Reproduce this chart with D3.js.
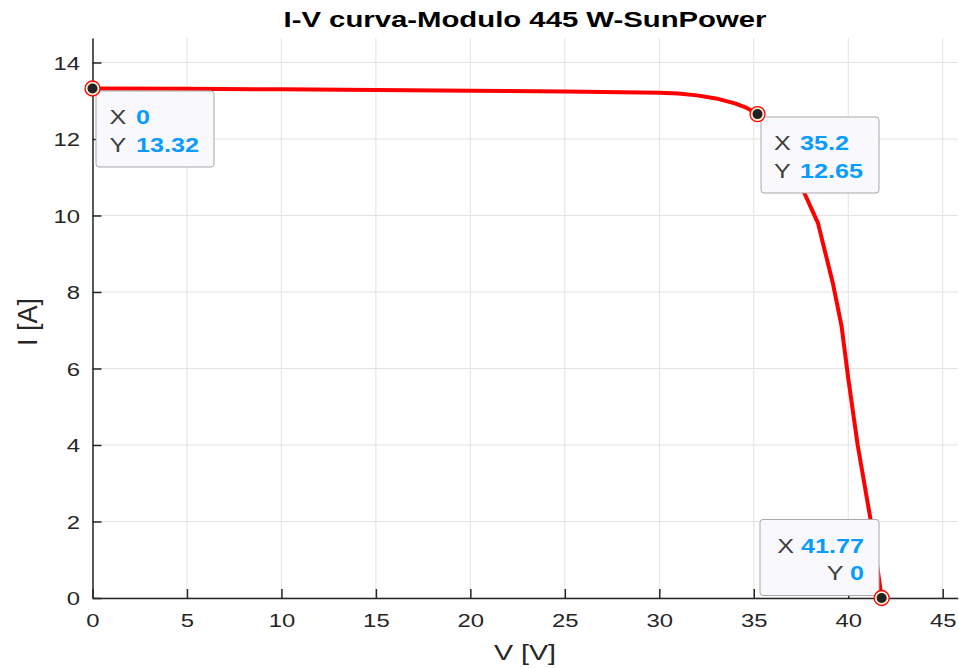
<!DOCTYPE html>
<html>
  <head>
    <meta charset="utf-8">
    <style>
      body {
        margin: 0;
        background: #fff;
      }
      text {
        font-family: "Liberation Sans", Arial, Helvetica, sans-serif;
      }
    </style>
  </head>
  <body>
    <script src="https://d3js.org/d3.v7.min.js"></script>
    <script>
      var width = 959, height = 668;

      // I-V curve
      var voltage = [0, 5, 10, 15, 20, 25, 30, 31, 32, 33, 34, 34.6, 35.2, 35.8, 36.5, 37.3, 38.4, 39.2, 39.65, 40.0, 40.5, 41.2, 41.77];
      var current = [13.32, 13.31, 13.3, 13.28, 13.26, 13.24, 13.21, 13.19, 13.14, 13.06, 12.93, 12.82, 12.65, 12.4, 11.9, 11.0, 9.8, 8.2, 7.1, 5.75, 4.0, 2.0, 0];

      var xTicks = [0, 5, 10, 15, 20, 25, 30, 35, 40, 45];
      var yTicks = [0, 2, 4, 6, 8, 10, 12, 14];

      // data tips: [x, y, label align]
      var tipX = [0, 35.2, 41.77];
      var tipY = [13.32, 12.65, 0];
      var tipText = [["0", "13.32"], ["35.2", "12.65"], ["41.77", "0"]];

      var SX = 1.29; // horizontal stretch of the exported figure text

      var x = d3.scaleLinear().domain([0, 45.8]).range([92.5, 957.8]);
      var y = d3.scaleLinear().domain([0, 14.64]).range([598, 38]);

      var svg = d3.select("body").append("svg")
          .attr("width", width)
          .attr("height", height);

      // grid
      var grid = svg.append("g").attr("stroke", "#e2e2e2").attr("stroke-width", 1);
      xTicks.forEach(function(d){
        grid.append("line")
            .attr("x1", x(d)).attr("x2", x(d))
            .attr("y1", y.range()[1]).attr("y2", y.range()[0]);
      });
      yTicks.forEach(function(d){
        grid.append("line")
            .attr("x1", x.range()[0]).attr("x2", x.range()[1])
            .attr("y1", y(d)).attr("y2", y(d));
      });

      // axes
      var xAxis = svg.append("g")
          .attr("transform", "translate(0," + y(0) + ")")
          .call(d3.axisBottom(x).tickValues(xTicks).tickSizeInner(-9).tickSizeOuter(0).tickFormat(d3.format("d")));
      var yAxis = svg.append("g")
          .attr("transform", "translate(" + x(0) + ",0)")
          .call(d3.axisLeft(y).tickValues(yTicks).tickSizeInner(-9).tickSizeOuter(0).tickFormat(d3.format("d")));

      [xAxis, yAxis].forEach(function(a){
        a.select(".domain").attr("stroke", "#262626").attr("stroke-width", 1.5);
        a.selectAll(".tick line").attr("stroke", "#262626").attr("stroke-width", 1.5);
        a.selectAll(".tick text")
            .attr("fill", "#262626")
            .style("font-size", "18.5px");
      });
      xAxis.selectAll(".tick text")
          .attr("y", 29.5).attr("dy", null)
          .attr("transform", "scale(" + SX + ",1)");
      yAxis.selectAll(".tick text")
          .attr("x", -12.5 / SX).attr("dy", "0.36em")
          .attr("transform", "scale(" + SX + ",1)");

      // title and labels
      svg.append("text")
          .attr("x", 525).attr("y", 27)
          .attr("text-anchor", "middle")
          .attr("textLength", 483).attr("lengthAdjust", "spacingAndGlyphs")
          .style("font-size", "21.5px").style("font-weight", "bold")
          .attr("fill", "#000")
          .text("I-V curva-Modulo 445 W-SunPower");

      svg.append("text")
          .attr("x", 525).attr("y", 660)
          .attr("text-anchor", "middle")
          .attr("textLength", 62).attr("lengthAdjust", "spacingAndGlyphs")
          .style("font-size", "22px")
          .attr("fill", "#262626")
          .text("V [V]");

      svg.append("g")
          .attr("transform", "translate(37,322) rotate(-90) scale(1," + SX + ")")
        .append("text")
          .attr("text-anchor", "middle")
          .attr("textLength", 48).attr("lengthAdjust", "spacingAndGlyphs")
          .style("font-size", "22px")
          .attr("fill", "#262626")
          .text("I [A]");

      // curve
      var points = voltage.map(function(v, i){ return [v, current[i]]; });
      svg.append("path")
          .datum(points)
          .attr("fill", "none")
          .attr("stroke", "#ff0000")
          .attr("stroke-width", 4)
          .attr("stroke-linejoin", "round")
          .attr("d", d3.line()
              .x(function(d){ return x(d[0]); })
              .y(function(d){ return y(d[1]); }));

      // data tip boxes
      var boxes = [
        { left: 96, top: 91, w: 118, h: 76, textX: 109.5, valX: 136, right: false },
        { left: 761, top: 117, w: 118, h: 76, textX: 774, valX: 800, right: false },
        { left: 760, top: 519.5, w: 119, h: 76, textX: 864, valX: 864, right: true }
      ];

      tipX.forEach(function(d, i){
        var b = boxes[i];
        var g = svg.append("g");
        g.append("rect")
            .attr("x", b.left).attr("y", b.top)
            .attr("width", b.w).attr("height", b.h)
            .attr("rx", 3)
            .attr("fill", "#f8f8fd")
            .attr("stroke", "#a8a8a8")
            .attr("stroke-width", 1);

        ["X", "Y"].forEach(function(lab, j){
          var base = b.top + 33 + j * 27.5;
          if (b.right) {
            var t = g.append("g")
                .attr("transform", "translate(" + b.textX + "," + base + ") scale(" + SX + ",1)")
              .append("text")
                .attr("text-anchor", "end")
                .style("font-size", "19.5px");
            t.append("tspan").attr("fill", "#404040").text(lab + " ");
            t.append("tspan").attr("fill", "#0a9bff").style("font-weight", "bold").text(tipText[i][j]);
          } else {
            g.append("text")
                .attr("transform", "translate(" + b.textX + "," + base + ") scale(" + SX + ",1)")
                .attr("fill", "#404040")
                .style("font-size", "19.5px")
                .text(lab);
            g.append("text")
                .attr("transform", "translate(" + b.valX + "," + base + ") scale(" + SX + ",1)")
                .attr("fill", "#0a9bff")
                .style("font-size", "19.5px").style("font-weight", "bold")
                .text(tipText[i][j]);
          }
        });
      });

      // data tip markers
      var marks = svg.append("g");
      tipX.forEach(function(d, i){
        marks.append("circle")
            .attr("cx", x(d)).attr("cy", y(tipY[i]))
            .attr("r", 7.5)
            .attr("fill", "#fff4d8")
            .attr("stroke", "#ff0000")
            .attr("stroke-width", 1.3);
        marks.append("circle")
            .attr("cx", x(d)).attr("cy", y(tipY[i]))
            .attr("r", 5)
            .attr("fill", "#222");
      });
    </script>
  </body>
</html>
